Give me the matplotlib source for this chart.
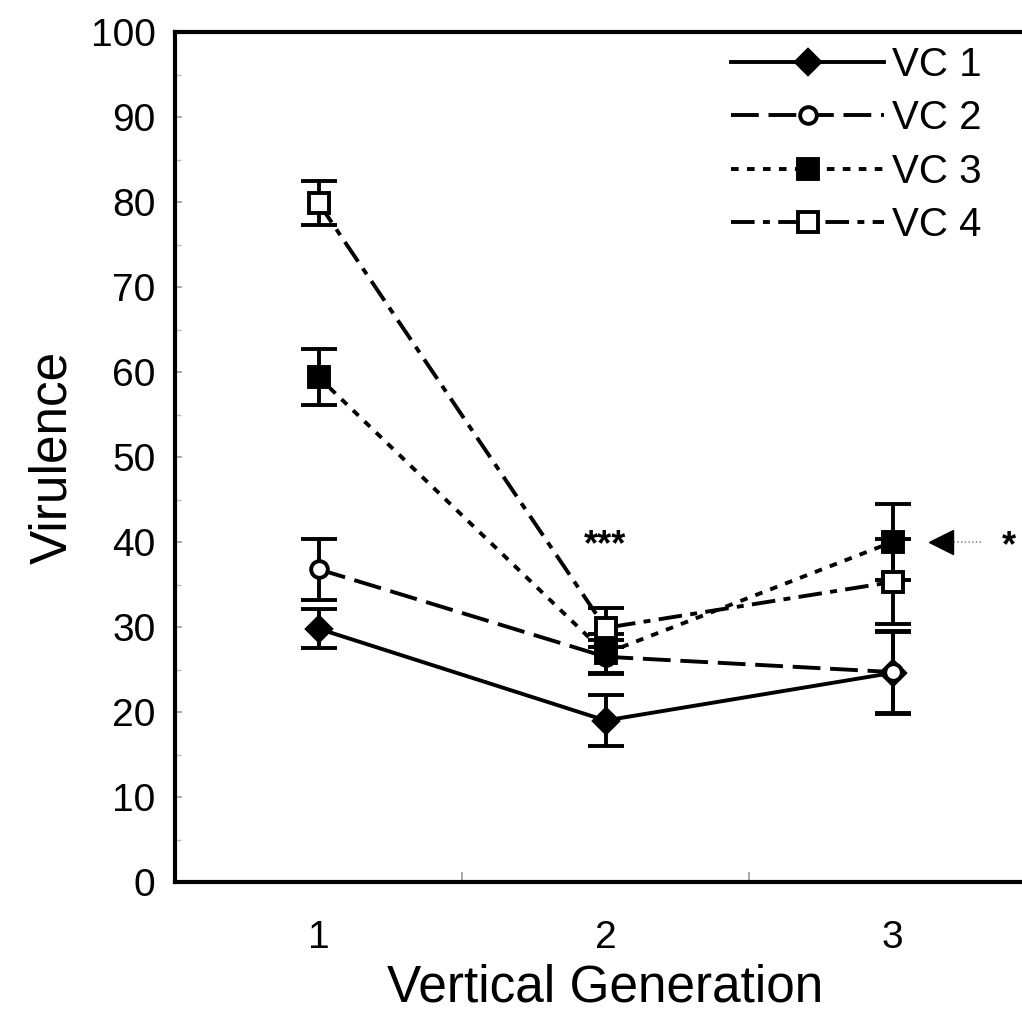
import matplotlib
matplotlib.use("Agg")
import matplotlib.pyplot as plt

plt.rcParams['font.family'] = ['Liberation Sans', 'DejaVu Sans']
plt.rcParams['lines.scale_dashes'] = False

generations = [1, 2, 3]
tick_labels = ["1", "2", "3"]
series_names = ["VC 1", "VC 2", "VC 3", "VC 4"]
vc1 = [29.8, 19.0, 24.6]
vc1_err = [2.3, 3.0, 4.8]
vc2 = [36.8, 26.5, 24.7]
vc2_err = [3.6, 2.0, 4.8]
vc3 = [59.4, 26.9, 40.0]
vc3_err = [3.3, 2.3, 4.5]
vc4 = [79.9, 29.9, 35.3]
vc4_err = [2.6, 2.3, 5.0]
sig_gen2 = "***"
sig_gen3 = "*"
arrow_value = 40

W, H = 1022, 1018
fig = plt.figure(figsize=(W / 100, H / 100), dpi=100)
ax = fig.add_axes([175 / W, 1 - 882 / H, (1036 - 175) / W, (882 - 32) / H])

styles = [
    dict(marker='D', mfc='black', mec='black', ms=12, dashes=None),
    dict(marker='o', mfc='white', mec='black', ms=12, dashes=(20, 7)),
    dict(marker='s', mfc='black', mec='black', ms=14.5, dashes=(5.5, 6)),
    dict(marker='s', mfc='white', mec='black', ms=14.5, dashes=(17, 6, 5, 6)),
]
values = [vc1, vc2, vc3, vc4]
errs = [vc1_err, vc2_err, vc3_err, vc4_err]

handles = []
for name, v, e, st in zip(series_names, values, errs, styles):
    ax.errorbar(generations, v, yerr=e, fmt='none', ecolor='black',
                elinewidth=2.8, capsize=13, capthick=2.8, zorder=3)
    kw = dict(color='black', lw=2.8, marker=st['marker'], mfc=st['mfc'],
              mec=st['mec'], ms=st['ms'], mew=2.8, zorder=4, label=name)
    line, = ax.plot(generations, v, **kw)
    if st['dashes'] is not None:
        line.set_dashes(st['dashes'])
    handles.append(line)

ax.set_xlim(0.5, 3.5)
ax.set_ylim(0, 100)
ax.set_yticks(range(0, 101, 10))
ax.set_yticks(range(0, 101, 5), minor=True)
ax.set_xticks(generations)
ax.set_xticklabels(tick_labels)
ax.set_xticks([1.5, 2.5], minor=True)
ax.tick_params(axis='y', which='major', direction='in', length=5, width=1.2,
               color='#999999', labelsize=28, pad=14)
ax.tick_params(axis='y', which='minor', direction='in', length=4, width=1.0,
               color='#bbbbbb')
ax.tick_params(axis='x', which='major', length=0, labelsize=28, pad=27)
ax.tick_params(axis='x', which='minor', direction='in', length=7, width=1.2,
               color='#999999')
for sp in ax.spines.values():
    sp.set_linewidth(3.0)

ax.set_xlabel("Vertical Generation", fontsize=37, labelpad=6)
ax.set_ylabel("Virulence", fontsize=37, labelpad=10)

# significance markers
ax.text(2.0, 39.6, sig_gen2, ha='center', va='center', fontsize=26, fontweight='bold')
ax.plot([3.17], [arrow_value], marker='<', color='black', ms=17, zorder=5)
ax.plot([3.2, 3.31], [arrow_value, arrow_value], color='#999999', lw=1.5, ls=':')
ax.text(3.405, arrow_value - 0.6, sig_gen3, ha='center', va='center', fontsize=26,
        fontweight='bold')

leg = ax.legend(handles=handles, loc='upper left',
                bbox_to_anchor=(731 / W, 1 - 46 / H), bbox_transform=fig.transFigure,
                frameon=False, fontsize=29, handlelength=3.8, handletextpad=0.2,
                labelspacing=0.38, borderpad=0, borderaxespad=0, numpoints=1)

fig.savefig("out.png", dpi=100)
